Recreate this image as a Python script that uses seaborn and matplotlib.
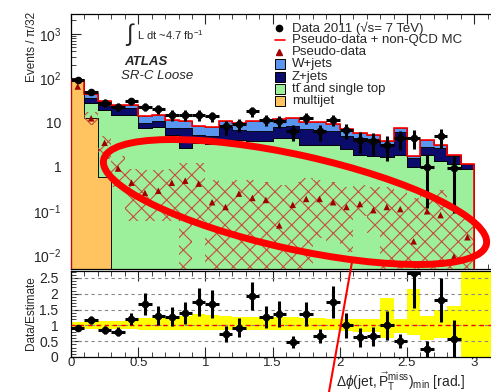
import numpy as np
import pandas as pd
import matplotlib
matplotlib.use("Agg")
import matplotlib.pyplot as plt
import seaborn as sns
from matplotlib.patches import Ellipse, Rectangle
from matplotlib.lines import Line2D
from matplotlib.transforms import IdentityTransform
from matplotlib.ticker import FixedLocator, FixedFormatter, LogLocator, MultipleLocator, NullFormatter

# ---------------- data ----------------
edges = np.round(np.linspace(0.0, 3.2, 33), 3)
centers = edges[:-1] + 0.05

# stacked backgrounds, events per bin (32 bins of 0.1)
multijet = [86, 12.6, 0.6] + [0] * 29
top = [1.5, 15, 19, 15, 15, 7.5, 8.0, 5.3, 2.7, 3.5, 3.3, 4.0, 4.0, 3.8, 3.8, 4.4,
       4.5, 3.2, 3.2, 3.2, 2.5, 1.9, 1.8, 1.7, 1.9, 1.0, 1.9, 1.35, 1.15, 0.9, 0, 0]
z_jets = [2, 9, 5.4, 6.4, 6.0, 2.3, 2.6, 2.2, 4.8, 1.8, 1.7, 4.0, 2.8, 2.7, 2.7, 3.6,
          4.0, 3.8, 3.3, 3.4, 2.5, 2.6, 2.5, 1.6, 4.3, 0.6, 0.9, 1.35, 0.6, 0.25, 0, 0]
w_jets = [2, 7, 5, 3.6, 3.5, 4.0, 4.4, 4.1, 3.1, 3.2, 3.0, 2.6, 3.2, 4.5, 4.5, 4.0,
          4.1, 3.5, 4.0, 2.6, 2.0, 1.2, 1.0, 0.45, 1.5, 0.2, 1.2, 0.5, 0.15, 0.0, 0, 0]

# observed data (bins 0-28)
data = [92, 50, 28, 23, 30, 23, 20.5, 15, 15, 15, 13.8, 8.2, 9.2, 17.8, 11.6,
        11, 6.3, 13, 6.3, 11.6, 6.9, 4.1, 3.9, 3.16, 4.5, 4.6, 1.02, 4.9, 0.94]
data_err = [9.6, 7.1, 5.3, 4.8, 5.5, 4.8, 4.5, 3.9, 3.9, 3.9, 3.7, 2.9, 3.0, 4.2, 3.4,
            3.3, 2.5, 3.6, 2.5, 3.4, 2.6, 2.0, 2.0, 1.8, 2.1, 2.1, 0.9, 2.2, 0.85]

# pseudo-data (bins 0-29) and its band (bins 1-29)
pseudo = [65, 12.5, 3.5, 0.92, 0.44, 0.26, 0.29, 0.44, 0.49, 0.42, 0.16, 0.125, 0.25, 0.2, 0.18,
          0.048, 0.14, 0.19, 0.19, 0.16, 0.125, 0.146, 0.106, 0.125, 0.112, 0.021, 0.1, 0.082,
          0.0095, 0.026]
pseudo_hi = [17, 5, 1.8, 0.9, 0.85, 0.85, 0.9, 1.2, 1.2, 0.5, 0.45, 0.5, 0.5, 0.45, 0.4, 0.45,
             0.55, 0.5, 0.45, 0.35, 0.4, 0.35, 0.35, 0.3, 0.2, 0.3, 0.3, 0.1, 0.08]
pseudo_lo = [9, 1.5, 0.35, 0.06, 0.06, 0.06, 0.06, 0.001, 0.06, 0.001, 0.001, 0.001, 0.001,
             0.001, 0.001, 0.001, 0.001, 0.025, 0.02, 0.012, 0.08, 0.033, 0.001, 0.001, 0.001,
             0.001, 0.001, 0.001, 0.001]

# data / estimate (bins 0-28) and estimate uncertainty band (bins 0-31)
ratio = [0.92, 1.17, 0.85, 0.80, 1.20, 1.68, 1.30, 1.27, 1.39, 1.74, 1.68, 0.73, 0.93, 1.93, 1.27,
         1.36, 0.47, 1.36, 0.66, 1.74, 1.00, 0.63, 0.66, 1.00, 0.51, 2.65, 0.25, 1.80, 0.57]
ratio_err = [0.07, 0.12, 0.12, 0.14, 0.20, 0.35, 0.30, 0.30, 0.35, 0.45, 0.45, 0.25, 0.30, 0.45, 0.35,
             0.40, 0.18, 0.38, 0.22, 0.50, 0.40, 0.30, 0.30, 0.47, 0.22, 1.10, 0.25, 0.70, 0.60]
band_lo = [0.90, 0.88, 0.88, 0.88, 0.87, 0.86, 0.85, 0.85, 0.84, 0.84, 0.84, 0.84, 0.85, 0.85, 0.85,
           0.85, 0.85, 0.84, 0.84, 0.84, 0.82, 0.80, 0.80, 0.60, 0.75, 0.70, 0.55, 0.60, 0.60, 0.0,
           0.0, 0.0]
band_hi = [1.10, 1.12, 1.13, 1.15, 1.18, 1.22, 1.25, 1.28, 1.30, 1.35, 1.32, 1.30, 1.28, 1.27, 1.25,
           1.25, 1.25, 1.22, 1.22, 1.20, 1.20, 1.20, 1.20, 1.87, 1.20, 2.15, 1.30, 1.50, 1.60, 2.72,
           2.72, 2.72]

processes = ["W+jets", "Z+jets", "top", "multijet"]
colors = {"W+jets": "#5a96f0", "Z+jets": "#0b0b6b", "top": "#9cf09c", "multijet": "#ffc35f"}
legend_labels = ["Data 2011 (\u221as= 7 TeV)", "Pseudo-data + non-QCD MC", "Pseudo-data",
                 "W+jets", "Z+jets", "tt\u0304 and single top", "multijet"]

# ---------------- style ----------------
sns.set_theme(style="ticks")
plt.rcParams["font.family"] = ["Liberation Sans", "DejaVu Sans"]
plt.rcParams["mathtext.fontset"] = "custom"
plt.rcParams["mathtext.rm"] = "Liberation Sans"
plt.rcParams["mathtext.it"] = "Liberation Sans:italic"
plt.rcParams["mathtext.bf"] = "Liberation Sans:bold"
plt.rcParams["hatch.linewidth"] = 0.8

W, H = 491, 392
fig = plt.figure(figsize=(W / 100, H / 100), dpi=100)
x0, x1 = 71, 501
ax = fig.add_axes([x0 / W, 1 - 269 / H, (x1 - x0) / W, (269 - 14) / H])
rax = fig.add_axes([x0 / W, 1 - 357 / H, (x1 - x0) / W, (357 - 271) / H])


def fx(px):
    return px / W


def fy(py):
    return 1 - py / H


def steps(vals, lo_bin):
    n = len(vals)
    xs = np.repeat(edges[lo_bin:lo_bin + n + 1], 2)[1:-1]
    ys = np.repeat(np.asarray(vals, float), 2)
    return xs, ys


# ---------------- main panel ----------------
stack = pd.DataFrame({
    "dphi": np.tile(centers, 4),
    "events": np.concatenate([w_jets, z_jets, top, multijet]).astype(float),
    "process": np.repeat(processes, len(centers)),
})
sns.histplot(data=stack, x="dphi", weights="events", hue="process", hue_order=processes,
             multiple="stack", binwidth=0.1, binrange=(0.0, 3.2), element="step", fill=True,
             alpha=1, palette=colors, edgecolor="black", linewidth=0.6, legend=False, ax=ax)

total = np.array(multijet) + np.array(top) + np.array(z_jets) + np.array(w_jets)
ax.stairs(total, edges, color="red", lw=1.2, zorder=4)

xs, lo = steps(pseudo_lo, 1)
_, hi = steps(pseudo_hi, 1)
ax.fill_between(xs, lo, hi, facecolor="none", edgecolor="#c4503a", hatch="xx",
                linewidth=0, zorder=3)

sns.scatterplot(x=centers[:len(pseudo)], y=pseudo, marker="^", color="#a00000", s=22,
                edgecolor="none", ax=ax, zorder=5)

ax.errorbar(centers[:len(data)], data, yerr=data_err, xerr=0.05, fmt="o", color="black",
            ms=4.5, elinewidth=2.2, capsize=0, zorder=6)

ax.set_yscale("log")
ax.set_xlim(0, 3.2)
ax.set_ylim(0.005, 2800)
ax.yaxis.set_major_locator(FixedLocator([1e-2, 1e-1, 1, 10, 100, 1000]))
ax.yaxis.set_major_formatter(FixedFormatter(["$10^{-2}$", "$10^{-1}$", "1", "10",
                                             "$10^{2}$", "$10^{3}$"]))
ax.yaxis.set_minor_locator(LogLocator(base=10, subs=np.arange(2, 10), numticks=100))
ax.yaxis.set_minor_formatter(NullFormatter())
ax.xaxis.set_major_locator(MultipleLocator(0.5))
ax.xaxis.set_minor_locator(MultipleLocator(0.1))
ax.set_xticklabels([])
ax.set_xlabel("")
ax.set_ylabel("")

fig.text(fx(32), fy(12), "Events / \u03c0/32", rotation=90, fontsize=8.5, ha="center", va="top")
fig.text(fx(31), fy(313), "Data/Estimate", rotation=90, fontsize=8.5, ha="center", va="center")

fig.text(fx(125), fy(35), r"$\int$", fontsize=17, va="center", ha="left")
fig.text(fx(137), fy(35), r"L dt ~4.7 fb$^{-1}$", fontsize=8, va="center", ha="left")
fig.text(fx(124), fy(62), "ATLAS", fontsize=9.5, fontweight="bold", style="italic", va="center")
fig.text(fx(121), fy(76), "SR-C Loose", fontsize=9.5, style="italic", va="center")

# legend, drawn entry by entry
rows = [28, 40, 52, 64, 77, 89, 101]
fig.add_artist(Line2D([fx(279)], [fy(rows[0])], transform=fig.transFigure, marker="o",
                      color="black", ms=4.5, lw=0))
fig.add_artist(Line2D([fx(275), fx(285)], [fy(rows[1])] * 2, transform=fig.transFigure,
                      color="red", lw=1.2))
fig.add_artist(Line2D([fx(279)], [fy(rows[2])], transform=fig.transFigure, marker="^",
                      color="#a00000", ms=5, lw=0))
for proc, yrow in zip(processes, rows[3:]):
    fig.add_artist(Rectangle((fx(275), fy(yrow + 5)), 10 / W, 10 / H, transform=fig.transFigure,
                             facecolor=colors[proc], edgecolor="black", lw=0.7))
for lab, yrow in zip(legend_labels, rows):
    fig.text(fx(292), fy(yrow), lab, fontsize=9.5, va="center", ha="left")

# ---------------- ratio panel ----------------
xs, blo = steps(band_lo, 0)
_, bhi = steps(band_hi, 0)
rax.fill_between(xs, blo, bhi, color="#ffff00", linewidth=0, zorder=1)
for g in [0.5, 1.0, 1.5, 2.0, 2.5]:
    rax.axhline(g, color="#888888", lw=0.8, ls=(0, (3, 3)), zorder=2)
rax.axhline(1.0, color="red", lw=1.0, ls=(0, (3, 3)), zorder=3)
rax.errorbar(centers[:len(ratio)], ratio, yerr=ratio_err, xerr=0.05, fmt="o", color="black",
             ms=4.5, elinewidth=2.2, capsize=0, zorder=5)
rax.set_xlim(0, 3.2)
rax.set_ylim(0, 2.72)
rax.xaxis.set_major_locator(MultipleLocator(0.5))
rax.xaxis.set_minor_locator(MultipleLocator(0.1))
rax.yaxis.set_major_locator(MultipleLocator(0.5))
rax.yaxis.set_minor_locator(MultipleLocator(0.1))
rax.xaxis.set_major_formatter(plt.FuncFormatter(lambda v, p: f"{v:g}"))
rax.yaxis.set_major_formatter(plt.FuncFormatter(lambda v, p: f"{v:g}"))
rax.set_ylabel("")

for a in (ax, rax):
    a.tick_params(which="both", direction="in", top=True, right=True, labelsize=10)
    a.tick_params(which="major", length=7, width=0.8)
    a.tick_params(which="minor", length=3.5, width=0.6)
    for s in a.spines.values():
        s.set_linewidth(0.9)
        s.set_color("black")
ax.tick_params(axis="y", pad=7)
rax.tick_params(axis="y", pad=9)
rax.tick_params(axis="x", pad=0, labelsize=9.5)

fig.text(fx(336), fy(382),
         r"$\Delta\phi(\mathrm{jet},\vec{\mathrm{P}}_{\mathrm{T}}^{\mathrm{miss}})_{\mathrm{min}}$ [rad.]",
         fontsize=10, ha="left", va="center")

# ---------------- highlight marks ----------------
ell = Ellipse((295, H - 202), 392, 94, angle=-12.5, transform=IdentityTransform(),
              fill=False, edgecolor="#ff0000", lw=5, zorder=20)
fig.add_artist(ell)
fig.add_artist(Line2D([352, 329], [H - 262, H - 392], transform=IdentityTransform(),
                      color="#ff0000", lw=1.5, zorder=20))

fig.savefig("out.png", dpi=100)
